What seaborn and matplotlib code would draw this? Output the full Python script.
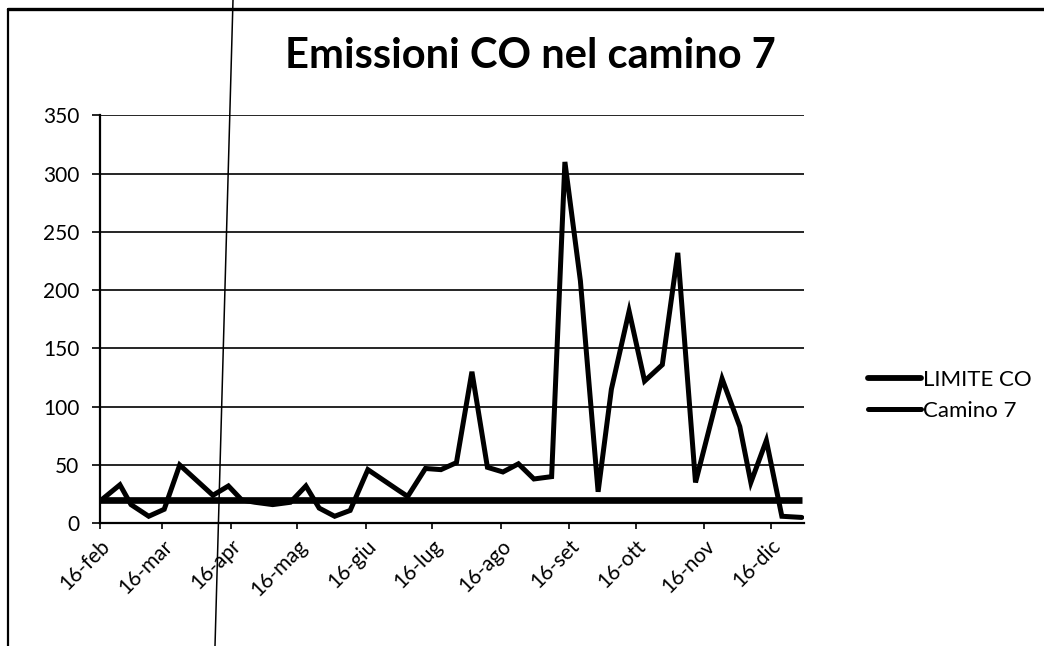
import matplotlib
matplotlib.use("Agg")
import matplotlib.pyplot as plt
from matplotlib.lines import Line2D
import pandas as pd
import seaborn as sns

# Sampling dates and CO emissions measured at stack 7
dates = [
    "2014-02-16", "2014-02-25", "2014-03-02", "2014-03-10", "2014-03-17",
    "2014-03-24", "2014-04-08", "2014-04-15", "2014-04-21", "2014-04-27",
    "2014-05-05", "2014-05-13", "2014-05-20", "2014-05-26", "2014-06-02",
    "2014-06-09", "2014-06-17", "2014-07-01", "2014-07-05", "2014-07-13",
    "2014-07-20", "2014-07-27", "2014-08-03", "2014-08-10", "2014-08-17",
    "2014-08-24", "2014-08-31", "2014-09-08", "2014-09-14", "2014-09-21",
    "2014-09-29", "2014-10-05", "2014-10-13", "2014-10-20", "2014-10-28",
    "2014-11-04", "2014-11-12", "2014-11-24", "2014-12-02", "2014-12-07",
    "2014-12-14", "2014-12-21", "2014-12-30",
]
camino_7 = [
    19, 33, 16, 6, 12,
    50, 24, 32, 20, 18,
    16, 18, 32, 13, 6,
    11, 46, 28, 23, 47,
    46, 52, 130, 48, 44,
    51, 38, 40, 310, 208,
    27, 115, 182, 122, 136,
    232, 35, 124, 83, 35,
    71, 6, 5,
]
limite_co = [20] * len(dates)

series_names = ["LIMITE CO", "Camino 7"]
tick_dates = ["2014-02-16", "2014-03-16", "2014-04-16", "2014-05-16",
              "2014-06-16", "2014-07-16", "2014-08-16", "2014-09-16",
              "2014-10-16", "2014-11-16", "2014-12-16"]
tick_labels = ["16-feb", "16-mar", "16-apr", "16-mag", "16-giu", "16-lug",
               "16-ago", "16-set", "16-ott", "16-nov", "16-dic"]
y_ticks = [0, 50, 100, 150, 200, 250, 300, 350]
title = "Emissioni CO nel camino 7"

df = pd.DataFrame({
    "data": pd.to_datetime(dates),
    series_names[0]: limite_co,
    series_names[1]: camino_7,
})

sns.set_theme(style="white")
plt.rcParams["font.family"] = ["Lato", "DejaVu Sans"]

fig = plt.figure(figsize=(10.44, 6.46), dpi=100)
ax = fig.add_axes([0.0958, 0.19, 0.6743, 0.6315])

sns.lineplot(data=df, x="data", y=series_names[0], ax=ax, color="black",
             linewidth=4.8, solid_capstyle="butt")
sns.lineplot(data=df, x="data", y=series_names[1], ax=ax, color="black",
             linewidth=3.6, solid_joinstyle="miter")

ax.set_ylim(0, 350)
ax.set_yticks(y_ticks)
ax.set_xlim(pd.Timestamp("2014-02-16"), pd.Timestamp("2014-12-31"))
ax.set_xticks(pd.to_datetime(tick_dates))
ax.set_xticklabels(tick_labels, rotation=45, ha="right", rotation_mode="anchor")
ax.set_xlabel("")
ax.set_ylabel("")

ax.grid(axis="y", color="black", linewidth=1.2)
ax.set_axisbelow(True)
for side in ("top", "right"):
    ax.spines[side].set_visible(False)
for side in ("left", "bottom"):
    ax.spines[side].set_color("black")
    ax.spines[side].set_linewidth(1.6)

ax.tick_params(axis="both", which="major", direction="out", width=1.2,
               color="black", labelsize=15, labelcolor="black",
               bottom=True, left=True)
ax.tick_params(axis="y", length=6, pad=9)
ax.tick_params(axis="x", length=4, pad=5)

fig.text(0.508, 0.913, title, ha="center", va="center", fontsize=30,
         fontweight="bold", color="black")

handles = [Line2D([], [], color="black", linewidth=4.2),
           Line2D([], [], color="black", linewidth=3.6)]
leg = fig.legend(handles, series_names, loc="center left",
                 bbox_to_anchor=(0.812, 0.388), frameon=False, fontsize=16,
                 handlelength=2.4, handletextpad=0.1, labelspacing=0.5)
for t in leg.get_texts():
    t.set_color("black")

# Outer frame of the chart area
fig.add_artist(Line2D([8 / 1044, 8 / 1044], [0, 1 - 9 / 646],
                      transform=fig.transFigure, color="black", linewidth=1.6))
fig.add_artist(Line2D([8 / 1044, 1], [1 - 9 / 646, 1 - 9 / 646],
                      transform=fig.transFigure, color="black", linewidth=2.4))
# Thin vertical rule crossing the page
fig.add_artist(Line2D([233 / 1044, 215 / 1044], [1, 0],
                      transform=fig.transFigure, color="black", linewidth=1.1))

fig.savefig("out.png", dpi=100, facecolor="white")
